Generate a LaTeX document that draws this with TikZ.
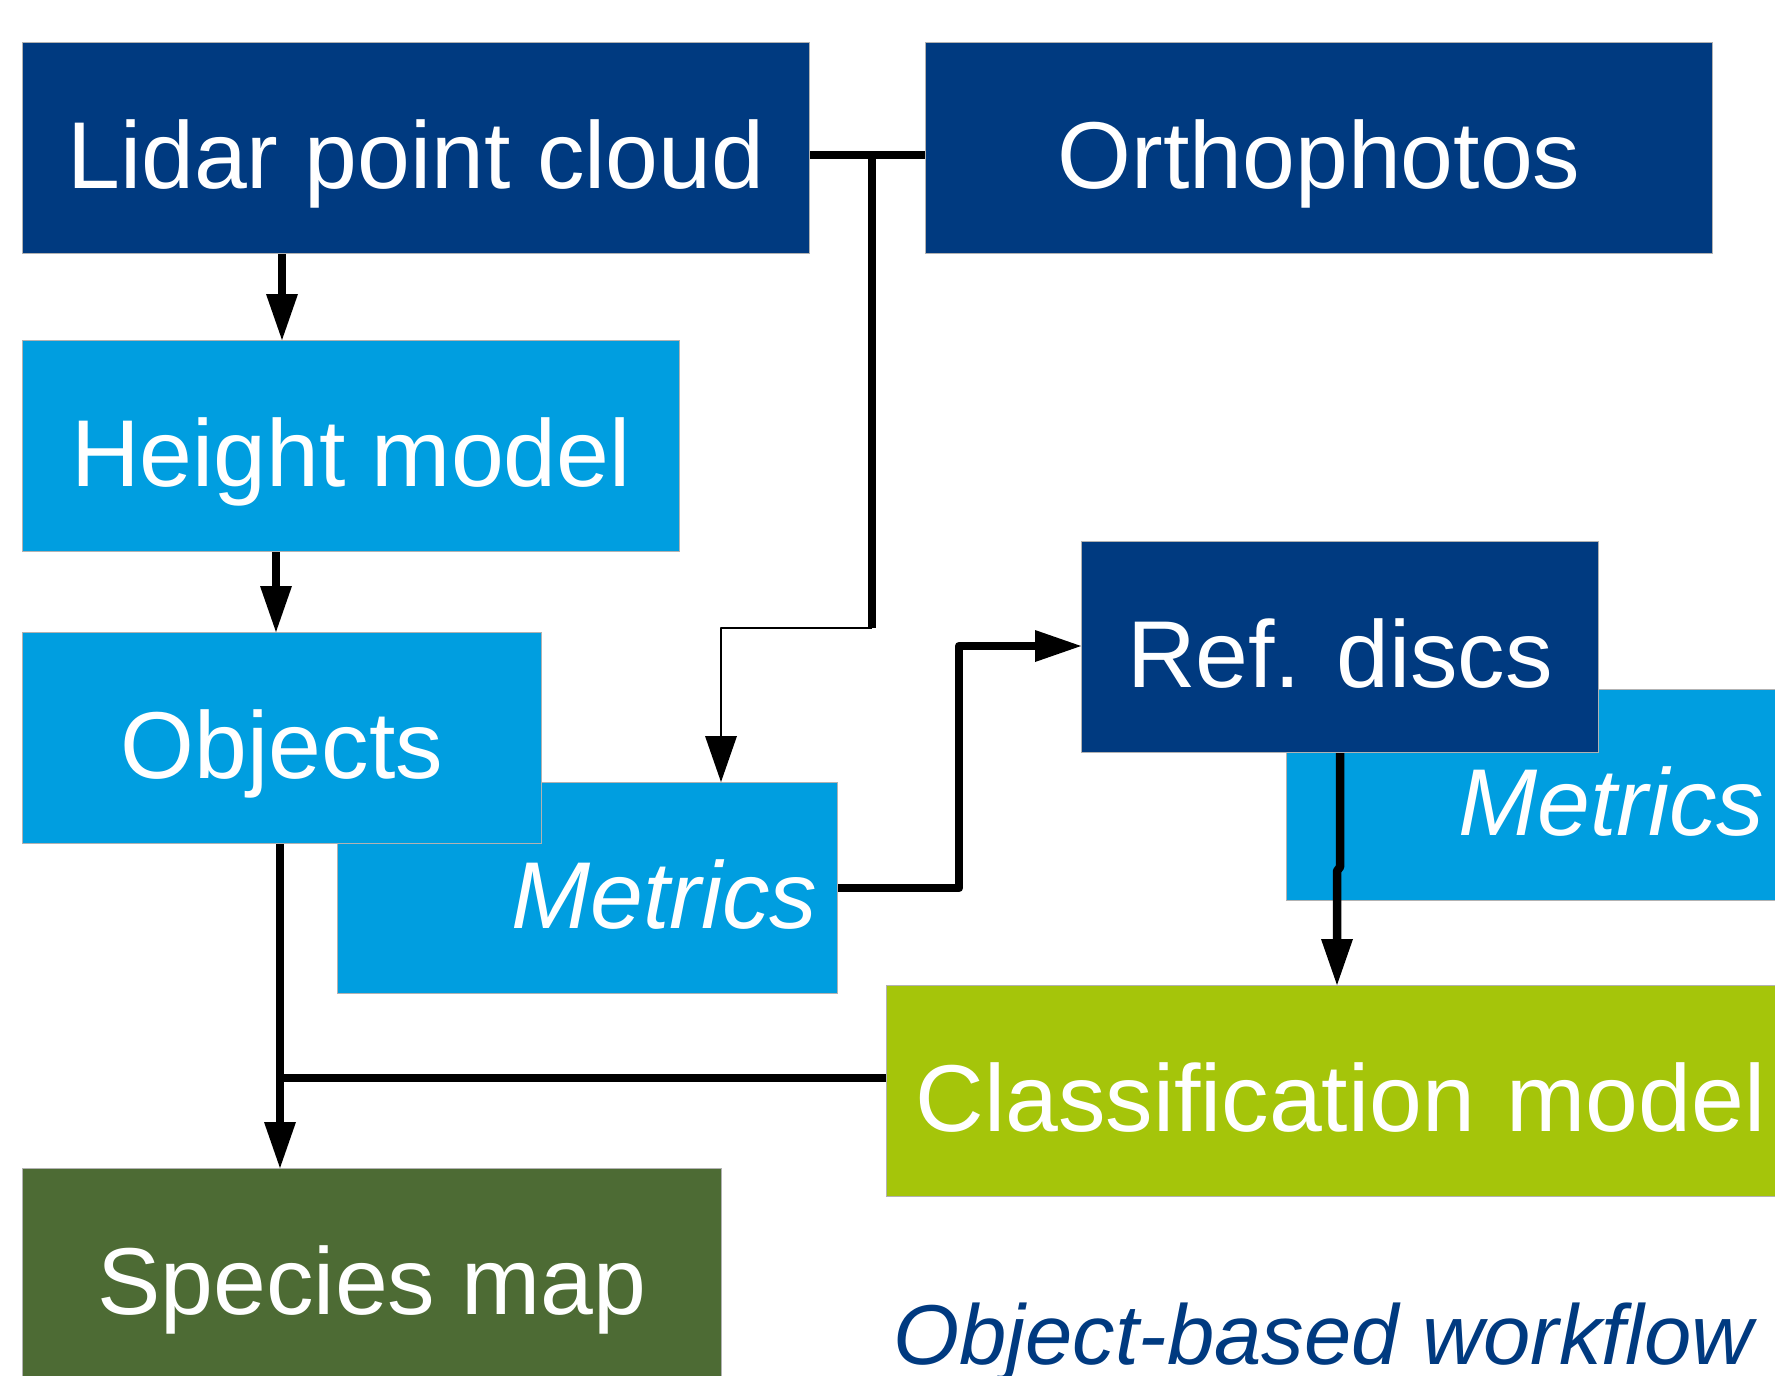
\documentclass[tikz,border=0pt]{standalone}
\usepackage{fontspec}
\setmainfont{Liberation Sans}
\usetikzlibrary{arrows.meta}
\definecolor{dblue}{RGB}{0,58,128}
\definecolor{lblue}{RGB}{0,158,224}
\definecolor{lgreen}{RGB}{165,197,10}
\definecolor{dgreen}{RGB}{77,107,52}
\begin{document}
\begin{tikzpicture}[x=1pt,y=-1pt,
  blk/.style={rectangle, draw=gray!60, line width=1pt, inner xsep=0pt, inner ysep=0pt,
    anchor=north west, text=white, font=\fontsize{95}{100}\selectfont,
    text height=80pt, text depth=0pt, minimum height=211pt},
  conn/.style={line width=8.5pt, line join=round},
  arr/.style={conn, -{Triangle[length=46pt,width=32pt,line width=0pt]}},
  thinarr/.style={line width=1.3pt, line join=round, -{Triangle[length=46pt,width=32pt,line width=0pt]}}]
\useasboundingbox (0,0) rectangle (1775,1376);
\clip (0,0) rectangle (1775,1376);
\fill[white] (0,0) rectangle (1775,1376);
% boxes
\node[blk, fill=dblue, minimum width=787pt] (lidar) at (22,42) {Lidar point cloud};
\node[blk, fill=dblue, minimum width=787pt] (ortho) at (925,42) {Orthophotos};
\node[blk, fill=lblue, minimum width=657pt] (height) at (22,340) {Height model};
\node[blk, fill=lblue, minimum width=500pt, text width=460pt, inner xsep=20pt, align=right, font=\fontsize{95}{100}\selectfont\itshape] (metricsA) at (337,782) {Metrics};
\node[blk, fill=lblue, minimum width=519pt] (objects) at (22,632) {Objects};
\node[blk, fill=lblue, minimum width=514pt, text width=442pt, inner xsep=36pt, align=right, font=\fontsize{95}{100}\selectfont\itshape] (metricsB) at (1286,689) {Metrics};
\node[blk, fill=dblue, minimum width=517pt] (refdiscs) at (1081,541) {Ref. discs};
\node[blk, fill=lgreen, minimum width=914pt, text width=856pt, inner xsep=29pt, align=left] (classif) at (886,985) {Classification model};
\node[blk, fill=dgreen, minimum width=699pt] (species) at (22,1168) {Species map};
\node[anchor=base west, inner sep=0pt, text=dblue, font=\fontsize{85}{90}\selectfont\itshape] (title) at (893,1364) {Object-based workflow};
% connectors
\draw[arr] ([xshift=260pt]lidar.south west) -- ([xshift=260pt]height.north west);
\draw[arr] ([xshift=254pt]height.south west) -- ([xshift=254pt]objects.north west);
\draw[arr] ([xshift=258pt]objects.south west) -- ([xshift=258pt]species.north west);
\coordinate (jA) at (872,155);
\coordinate (jB) at (872,628);
\coordinate (jC) at (721,628);
\coordinate (jD) at (280,1078);
\draw[conn] ([yshift=-113pt]lidar.north east) -- ([yshift=-113pt]ortho.north west);
\draw[conn] (jA) -- (jB);
\draw[thinarr] (jB) -- (jC) -- (jC |- metricsA.north);
\draw[arr] (metricsA.east) -- (959,888) -- (959,646) -- ([yshift=-105pt]refdiscs.north west);
\draw[arr] ([xshift=259pt]refdiscs.south west) -- ++(0,114) -- ++(-3,4) -- ([xshift=451pt]classif.north west);
\draw[conn] (jD -| classif.west) -- (jD);
\end{tikzpicture}
\end{document}
